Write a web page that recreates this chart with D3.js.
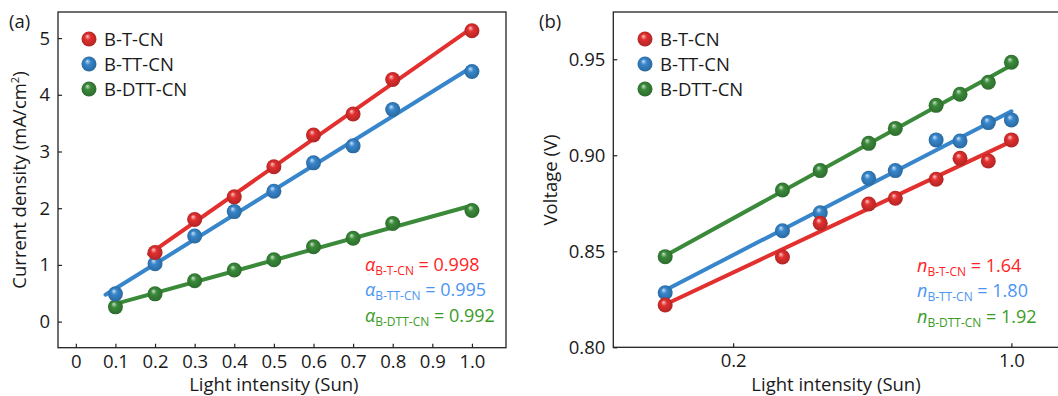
<!DOCTYPE html>
<html>
<head>
<meta charset="utf-8">
<script src="https://cdn.jsdelivr.net/npm/d3@7"></script>
<style>
  body { margin: 0; background: #fff; }
  svg text { font-family: "Open Sans", "Noto Sans", sans-serif; fill: #1a1a1a; }
</style>
</head>
<body>
<svg id="chart" width="1058" height="396"></svg>
<script>
// panel (a): Jsc vs light intensity
var intensityA = [0.1, 0.2, 0.3, 0.4, 0.5, 0.6, 0.7, 0.8, 1.0];
var jscBTCN   = [null, 1.22, 1.80, 2.20, 2.73, 3.29, 3.66, 4.27, 5.13];
var jscBTTCN  = [0.49, 1.02, 1.51, 1.94, 2.30, 2.80, 3.10, 3.74, 4.41];
var jscBDTTCN = [0.26, 0.49, 0.72, 0.91, 1.09, 1.32, 1.47, 1.73, 1.96];
var ticksA_x = [0, 0.1, 0.2, 0.3, 0.4, 0.5, 0.6, 0.7, 0.8, 0.9, 1.0];
var ticksA_y = [0, 1, 2, 3, 4, 5];

// panel (b): Voc vs light intensity (log)
var intensityB = [0.135, 0.266, 0.331, 0.438, 0.511, 0.647, 0.743, 0.875, 1.0];
var vocBTCN   = [0.822, 0.847, 0.8646, 0.8746, 0.8776, 0.8875, 0.8984, 0.897, 0.908];
var vocBTTCN  = [0.8284, 0.8607, 0.8701, 0.888, 0.892, 0.908, 0.9074, 0.917, 0.9184];
var vocBDTTCN = [0.8472, 0.8819, 0.892, 0.9062, 0.914, 0.926, 0.9318, 0.938, 0.9484];
var ticksB_x = [0.2, 1.0];
var ticksB_y = [0.80, 0.85, 0.90, 0.95];

var names = ["B-T-CN", "B-TT-CN", "B-DTT-CN"];
var alphas = ["0.998", "0.995", "0.992"];
var nvals = ["1.64", "1.80", "1.92"];

var colors = ["#e2302f", "#3786cc", "#3a8a3a"];
var textColors = ["#ff2323", "#4b96f2", "#3a9c25"];

var FS = 18.5;

var svg = d3.select("#chart");

// sphere gradients
var defs = svg.append("defs");
colors.forEach(function(c, i) {
  var g = defs.append("radialGradient").attr("id", "ball" + i)
    .attr("cx", "50%").attr("cy", "50%").attr("r", "55%")
    .attr("fx", "38%").attr("fy", "30%");
  g.append("stop").attr("offset", "0%").attr("stop-color", d3.interpolateRgb(c, "#fff")(0.75));
  g.append("stop").attr("offset", "35%").attr("stop-color", c);
  g.append("stop").attr("offset", "100%").attr("stop-color", d3.interpolateRgb(c, "#000")(0.25));
});

// least squares line in transformed x
function fit(xs, ys, tx) {
  var px = [], py = [];
  xs.forEach(function(x, i) { if (ys[i] != null) { px.push(tx(x)); py.push(ys[i]); } });
  var mx = d3.mean(px), my = d3.mean(py);
  var sxy = d3.sum(px, function(x, i) { return (x - mx) * (py[i] - my); });
  var sxx = d3.sum(px, function(x) { return (x - mx) * (x - mx); });
  var b = sxy / sxx;
  return function(x) { return my + b * (tx(x) - mx); };
}

function drawFrame(g, x0, y0, x1, y1) {
  g.append("rect").attr("x", x0).attr("y", y0).attr("width", x1 - x0).attr("height", y1 - y0)
    .attr("fill", "none").attr("stroke", "#222").attr("stroke-width", 1.3);
}

function drawLegend(g, lx, ly) {
  names.forEach(function(n, i) {
    g.append("circle").attr("cx", lx).attr("cy", ly + i * 25).attr("r", 7.5)
      .attr("fill", "url(#ball" + i + ")");
    g.append("text").attr("x", lx + 15).attr("y", ly + i * 25 + 6.5)
      .attr("font-size", FS).text(n);
  });
}

function drawNotes(g, x0, y0, sym, vals) {
  vals.forEach(function(v, i) {
    var t = g.append("text").attr("x", x0).attr("y", y0 + i * 25.3)
      .attr("font-size", 18).style("fill", textColors[i]);
    t.append("tspan").attr("font-style", "italic").style("fill", textColors[i]).text(sym);
    t.append("tspan").attr("font-size", 12).attr("dy", 4).style("fill", textColors[i]).text(names[i]);
    t.append("tspan").attr("dy", -4).style("fill", textColors[i]).text(" = " + v);
  });
}

// ---------------- panel (a)
var gA = svg.append("g");
var xA = d3.scaleLinear().domain([-0.045, 1.086]).range([58, 506]);
var yA = d3.scaleLinear().domain([-0.46, 5.46]).range([347.7, 12]);

var seriesA = [jscBTCN, jscBTTCN, jscBDTTCN];
var fitRangeA = [[0.185, 1.0], [0.075, 1.0], [0.1, 1.0]];

[2, 1, 0].forEach(function(i) {
  var f = fit(intensityA, seriesA[i], function(x) { return x; });
  var r = fitRangeA[i];
  gA.append("line")
    .attr("x1", xA(r[0])).attr("y1", yA(f(r[0])))
    .attr("x2", xA(r[1])).attr("y2", yA(f(r[1])))
    .attr("stroke", colors[i]).attr("stroke-width", 4).attr("stroke-linecap", "round");
});
[2, 1, 0].forEach(function(i) {
  gA.selectAll(".ptA" + i)
    .data(intensityA.map(function(x, k) { return [x, seriesA[i][k]]; }).filter(function(d) { return d[1] != null; }))
    .enter().append("circle")
    .attr("cx", function(d) { return xA(d[0]); })
    .attr("cy", function(d) { return yA(d[1]); })
    .attr("r", 7.5)
    .attr("fill", "url(#ball" + i + ")");
});

drawFrame(gA, 58, 12, 506, 347.7);

gA.append("g").attr("transform", "translate(0,347.7)")
  .call(d3.axisBottom(xA).tickValues(ticksA_x).tickSize(-4).tickPadding(7)
    .tickFormat(function(d) { return d === 0 ? "0" : d.toFixed(1); }))
  .call(function(a) { a.select(".domain").remove(); });
gA.append("g").attr("transform", "translate(58,0)")
  .call(d3.axisLeft(yA).tickValues(ticksA_y).tickSize(-4).tickPadding(8)
    .tickFormat(d3.format("d")))
  .call(function(a) { a.select(".domain").remove(); });

gA.selectAll(".tick text").attr("font-size", FS).style("fill", "#1a1a1a").attr("font-family", null);
gA.selectAll(".tick line").attr("stroke", "#222").attr("stroke-width", 1.2);

gA.append("text").attr("x", xA(0.5)).attr("y", 391).attr("text-anchor", "middle")
  .attr("font-size", FS).text("Light intensity (Sun)");
var ytA = gA.append("text").attr("transform", "translate(26,180) rotate(-90)")
  .attr("text-anchor", "middle").attr("font-size", FS);
ytA.append("tspan").text("Current density (mA/cm");
ytA.append("tspan").attr("font-size", 11).attr("dy", -7).text("2");
ytA.append("tspan").attr("dy", 7).text(")");

gA.append("text").attr("x", 9).attr("y", 28).attr("font-size", FS).text("(a)");
drawLegend(gA, 89, 39);
drawNotes(gA, 365, 271, "α", alphas);

// ---------------- panel (b)
var gB = svg.append("g");
var xB = d3.scaleLog().domain([0.1, 1.32]).range([613.3, 1059.4]);
var yB = d3.scaleLinear().domain([0.80, 0.9746]).range([347.3, 12]);

var seriesB = [vocBTCN, vocBTTCN, vocBDTTCN];

[2, 1, 0].forEach(function(i) {
  var f = fit(intensityB, seriesB[i], Math.log);
  var r = [intensityB[0], 1.0];
  gB.append("line")
    .attr("x1", xB(r[0])).attr("y1", yB(f(r[0])))
    .attr("x2", xB(r[1])).attr("y2", yB(f(r[1])))
    .attr("stroke", colors[i]).attr("stroke-width", 4).attr("stroke-linecap", "round");
});
[2, 1, 0].forEach(function(i) {
  gB.selectAll(".ptB" + i)
    .data(intensityB.map(function(x, k) { return [x, seriesB[i][k]]; }))
    .enter().append("circle")
    .attr("cx", function(d) { return xB(d[0]); })
    .attr("cy", function(d) { return yB(d[1]); })
    .attr("r", 7.5)
    .attr("fill", "url(#ball" + i + ")");
});

drawFrame(gB, 613.3, 12, 1062, 347.3);

gB.append("g").attr("transform", "translate(0,347.3)")
  .call(d3.axisBottom(xB).tickValues(ticksB_x).tickSize(-4).tickPadding(7)
    .tickFormat(function(d) { return d.toFixed(1); }))
  .call(function(a) { a.select(".domain").remove(); });
gB.append("g").attr("transform", "translate(613.3,0)")
  .call(d3.axisLeft(yB).tickValues(ticksB_y).tickSize(-4).tickPadding(8)
    .tickFormat(d3.format(".2f")))
  .call(function(a) { a.select(".domain").remove(); });

gB.selectAll(".tick text").attr("font-size", FS).style("fill", "#1a1a1a").attr("font-family", null);
gB.selectAll(".tick line").attr("stroke", "#222").attr("stroke-width", 1.2);

gB.append("text").attr("x", 836).attr("y", 391).attr("text-anchor", "middle")
  .attr("font-size", FS).text("Light intensity (Sun)");
gB.append("text").attr("transform", "translate(557,180) rotate(-90)")
  .attr("text-anchor", "middle").attr("font-size", FS).text("Voltage (V)");

gB.append("text").attr("x", 539).attr("y", 28).attr("font-size", FS).text("(b)");
drawLegend(gB, 645, 39);
drawNotes(gB, 917, 272, "n", nvals);
</script>
</body>
</html>
